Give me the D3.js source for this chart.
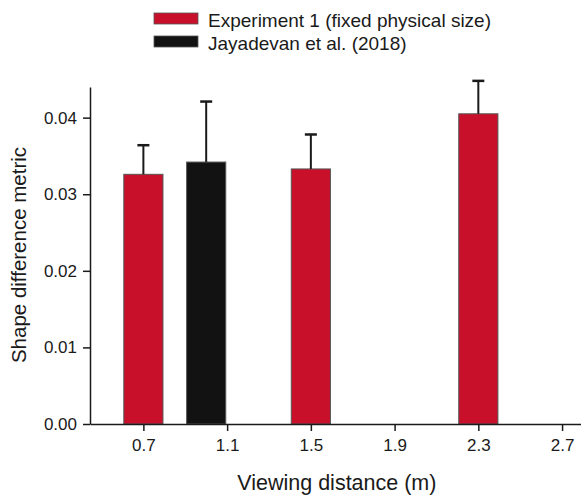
<!DOCTYPE html>
<html>
<head>
<meta charset="utf-8">
<script src="https://cdn.jsdelivr.net/npm/d3@7"></script>
<style>
  body { margin: 0; background: #fff; }
  text { font-family: "Liberation Sans", Arial, sans-serif; fill: #1a1a1a; }
</style>
</head>
<body>
<div id="chart"></div>
<script>
// Data
var seriesNames = ["Experiment 1 (fixed physical size)", "Jayadevan et al. (2018)"];
var expDistance = [0.7, 1.5, 2.3];
var expMean = [0.0326, 0.0333, 0.0405];
var expErr = [0.0038, 0.0045, 0.0043];
var jayDistance = [1.0];
var jayMean = [0.0342];
var jayErr = [0.0079];
var xTicks = [0.7, 1.1, 1.5, 1.9, 2.3, 2.7];
var yTicks = [0.00, 0.01, 0.02, 0.03, 0.04];

var colors = ["#c8102a", "#121212"];

// svg area and margins
var svgWidth = 581;
var svgHeight = 495;
var margin = { top: 87, right: 0, bottom: 71, left: 90 };
var chartWidth = svgWidth - margin.left - margin.right + 2;
var chartHeight = svgHeight - margin.top - margin.bottom;

var svg = d3.select("#chart")
    .append("svg")
    .attr("width", svgWidth)
    .attr("height", svgHeight);

var chartGroup = svg.append("g")
    .attr("transform", `translate(${margin.left}, ${margin.top})`);

// build rows for bars
var bars = [];
expDistance.forEach(function(d, i) {
    bars.push({ x: d, y: expMean[i], err: expErr[i], s: 0 });
});
jayDistance.forEach(function(d, i) {
    bars.push({ x: d, y: jayMean[i], err: jayErr[i], s: 1 });
});

var xScale = d3.scaleLinear()
    .domain([0.445, 2.8])
    .range([0, chartWidth]);

var yScale = d3.scaleLinear()
    .domain([0, 0.044])
    .range([chartHeight, 0]);

var barWidth = xScale(0.7 + 0.187) - xScale(0.7);
var capWidth = 12;

// bars
chartGroup.selectAll("rect.bar")
    .data(bars)
    .enter()
    .append("rect")
    .attr("class", "bar")
    .attr("x", d => xScale(d.x) - barWidth / 2)
    .attr("y", d => yScale(d.y))
    .attr("width", barWidth)
    .attr("height", d => chartHeight - yScale(d.y))
    .attr("fill", d => colors[d.s])
    .attr("stroke", "#555")
    .attr("stroke-width", 1);

// error bars (upper only)
chartGroup.selectAll("line.err")
    .data(bars)
    .enter()
    .append("line")
    .attr("class", "err")
    .attr("x1", d => xScale(d.x))
    .attr("x2", d => xScale(d.x))
    .attr("y1", d => yScale(d.y))
    .attr("y2", d => yScale(d.y + d.err))
    .attr("stroke", "#1a1a1a")
    .attr("stroke-width", 2);

chartGroup.selectAll("line.cap")
    .data(bars)
    .enter()
    .append("line")
    .attr("class", "cap")
    .attr("x1", d => xScale(d.x) - capWidth / 2)
    .attr("x2", d => xScale(d.x) + capWidth / 2)
    .attr("y1", d => yScale(d.y + d.err))
    .attr("y2", d => yScale(d.y + d.err))
    .attr("stroke", "#1a1a1a")
    .attr("stroke-width", 2.5);

// axes
var bottomAxis = d3.axisBottom(xScale)
    .tickValues(xTicks)
    .tickFormat(d3.format(".1f"))
    .tickSizeInner(7)
    .tickSizeOuter(0)
    .tickPadding(8);

var leftAxis = d3.axisLeft(yScale)
    .tickValues(yTicks)
    .tickFormat(d3.format(".2f"))
    .tickSizeInner(7)
    .tickSizeOuter(0)
    .tickPadding(6);

var xAxisG = chartGroup.append("g")
    .attr("transform", `translate(0, ${chartHeight})`)
    .call(bottomAxis);

var yAxisG = chartGroup.append("g")
    .call(leftAxis);

[xAxisG, yAxisG].forEach(function(g) {
    g.select(".domain").attr("stroke", "#1a1a1a").attr("stroke-width", 1.5);
    g.selectAll(".tick line").attr("stroke", "#1a1a1a").attr("stroke-width", 1.5);
    g.selectAll(".tick text")
        .attr("font-size", "17px")
        .attr("font-family", "Liberation Sans, Arial, sans-serif")
        .attr("fill", "#1a1a1a");
});

// axis titles
chartGroup.append("text")
    .attr("x", xScale(1.5) + 26)
    .attr("y", chartHeight + 66)
    .style("text-anchor", "middle")
    .attr("font-size", "21.5px")
    .text("Viewing distance (m)");

chartGroup.append("text")
    .attr("transform", "rotate(-90)")
    .attr("x", -(255 - margin.top))
    .attr("y", 26 - margin.left)
    .style("text-anchor", "middle")
    .attr("font-size", "20.5px")
    .text("Shape difference metric");

// legend
var legend = svg.append("g")
    .attr("transform", "translate(154, 13)");

var legendItems = legend.selectAll("g")
    .data(seriesNames)
    .enter()
    .append("g")
    .attr("transform", (d, i) => `translate(0, ${i * 23})`);

legendItems.append("rect")
    .attr("width", 44)
    .attr("height", 11)
    .attr("fill", (d, i) => colors[i])
    .attr("stroke", "#555")
    .attr("stroke-width", 0.8);

legendItems.append("text")
    .attr("x", 54)
    .attr("y", 13.5)
    .attr("font-size", "19px")
    .text(d => d);
</script>
</body>
</html>
